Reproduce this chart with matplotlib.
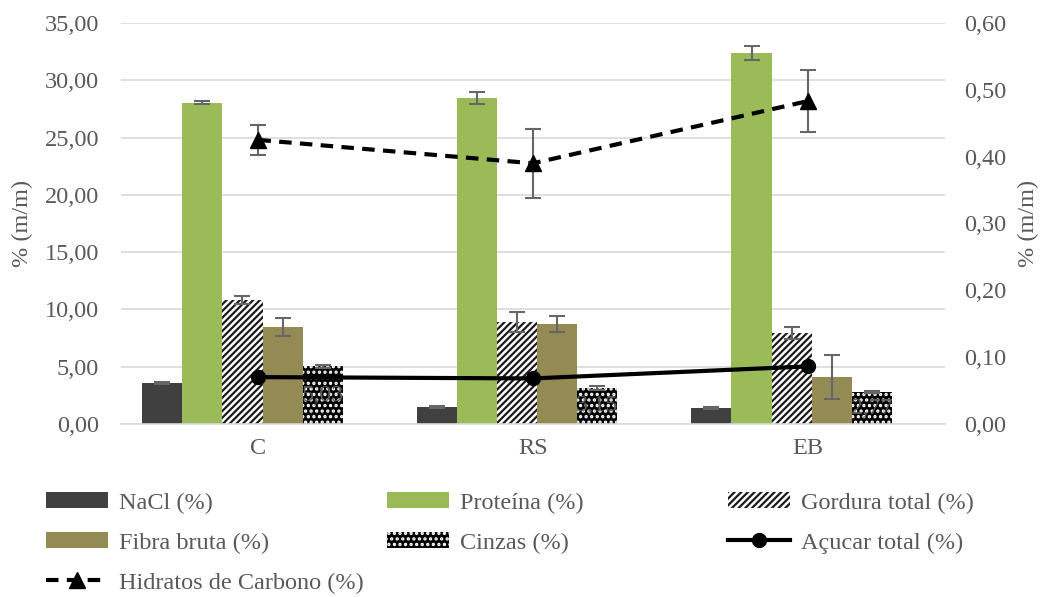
import numpy as np
import matplotlib
matplotlib.use('Agg')
import matplotlib.pyplot as plt
from matplotlib.ticker import FuncFormatter, MultipleLocator
from matplotlib.lines import Line2D
from matplotlib.patches import Patch

plt.rcParams.update({
    'font.family': 'Liberation Serif',
    'font.size': 17,
    'hatch.linewidth': 1.6,
})

# Data
categories = ['C', 'RS', 'EB']
nacl = [3.58, 1.48, 1.40]
nacl_err = [0.10, 0.10, 0.10]
proteina = [28.05, 28.45, 32.35]
proteina_err = [0.15, 0.55, 0.60]
gordura = [10.82, 8.90, 7.94]
gordura_err = [0.35, 0.85, 0.55]
fibra = [8.46, 8.73, 4.10]
fibra_err = [0.75, 0.70, 1.95]
cinzas = [5.03, 3.15, 2.77]
cinzas_err = [0.15, 0.15, 0.10]
acucar = [0.070, 0.068, 0.086]
hidratos = [0.425, 0.390, 0.483]
hidratos_err = [0.022, 0.052, 0.046]

GRAY = '#595959'
ERR = '#666666'
FS = 17.5

fig = plt.figure(figsize=(10.44, 5.97), dpi=100)
ax = fig.add_axes([0.116, 0.290, 0.789, 0.6715])
ax2 = ax.twinx()

x = np.arange(len(categories))
w = 0.146
offsets = [-0.350, -0.204, -0.058, 0.088, 0.234]
ekw = dict(ecolor=ERR, elinewidth=1.5, capsize=6, capthick=1.5)

ax.bar(x + offsets[0], nacl, w, color='#404040', yerr=nacl_err, error_kw=ekw, zorder=2)
ax.bar(x + offsets[1], proteina, w, color='#9BBB59', yerr=proteina_err, error_kw=ekw, zorder=2)
ax.bar(x + offsets[2], gordura, w, facecolor='white', edgecolor='#1a1a1a', linewidth=0,
       hatch='/////', yerr=gordura_err, error_kw=ekw, zorder=2)
ax.bar(x + offsets[3], fibra, w, color='#948A54', yerr=fibra_err, error_kw=ekw, zorder=2)
ax.bar(x + offsets[4], cinzas, w, facecolor='black', edgecolor='white', linewidth=0,
       hatch='...', yerr=cinzas_err, error_kw=ekw, zorder=2)
for xi, v in zip(x + offsets[4], cinzas):
    ax.text(xi, v / 2, f'{v:.2f}'.replace('.', ','), ha='center', va='center',
            color=GRAY, fontsize=FS, zorder=3)

ax2.plot(x, acucar, color='black', lw=3, marker='o', markersize=10, zorder=4)
ax2.errorbar(x, hidratos, yerr=hidratos_err, fmt='none', **ekw, zorder=3)
ax2.plot(x, hidratos, color='black', lw=3, ls=(0, (3, 2)), marker='^', markersize=11, zorder=4)

comma = FuncFormatter(lambda v, p: f'{v:.2f}'.replace('.', ','))
ax.set_ylim(0, 35)
ax.yaxis.set_major_locator(MultipleLocator(5))
ax.yaxis.set_major_formatter(comma)
ax2.set_ylim(0, 0.6)
ax2.yaxis.set_major_locator(MultipleLocator(0.1))
ax2.yaxis.set_major_formatter(comma)
ax.set_xlim(-0.5, 2.5)
ax.set_xticks(x)
ax.set_xticklabels(categories)

ax.grid(axis='y', color='#D9D9D9', lw=1.2, zorder=0)
ax.set_axisbelow(True)
for a in (ax, ax2):
    for s in ['top', 'left', 'right', 'bottom']:
        a.spines[s].set_visible(False)
    a.tick_params(length=0, colors=GRAY, labelsize=FS)
ax.spines['bottom'].set_visible(True)
ax.spines['bottom'].set_color('#D9D9D9')
ax.spines['bottom'].set_linewidth(1.2)
ax.tick_params(axis='x', pad=10)
ax.tick_params(axis='y', pad=16)
ax2.tick_params(axis='y', pad=14)
ax.set_ylabel('% (m/m)', color=GRAY, fontsize=FS, labelpad=8)
ax2.set_ylabel('% (m/m)', color=GRAY, fontsize=FS, labelpad=8)

# Legend, three columns placed separately
h_nacl = Patch(facecolor='#404040')
h_prot = Patch(facecolor='#9BBB59')
h_gord = Patch(facecolor='white', edgecolor='#1a1a1a', linewidth=0, hatch='/////')
h_fibra = Patch(facecolor='#948A54')
h_cinz = Patch(facecolor='black', edgecolor='white', linewidth=0, hatch='...')
h_acu = Line2D([], [], color='black', lw=3, marker='o', markersize=10)
h_hid = Line2D([], [], color='black', lw=3, ls=(0, (3, 2)), marker='^', markersize=11)

cols = [
    ([h_nacl, h_fibra, h_hid], ['NaCl (%)', 'Fibra bruta (%)', 'Hidratos de Carbono (%)'], 0.044),
    ([h_prot, h_cinz], ['Proteína (%)', 'Cinzas (%)'], 0.371),
    ([h_gord, h_acu], ['Gordura total (%)', 'Açucar total (%)'], 0.697),
]
for hs, ls, xpos in cols:
    leg = fig.legend(hs, ls, loc='upper left', bbox_to_anchor=(xpos, 0.176),
                     frameon=False, fontsize=FS, handlelength=2.55, handleheight=0.65,
                     handletextpad=0.45, labelspacing=0.76, borderaxespad=0, borderpad=0)
    for t in leg.get_texts():
        t.set_color(GRAY)

fig.savefig('out.png', dpi=100)
